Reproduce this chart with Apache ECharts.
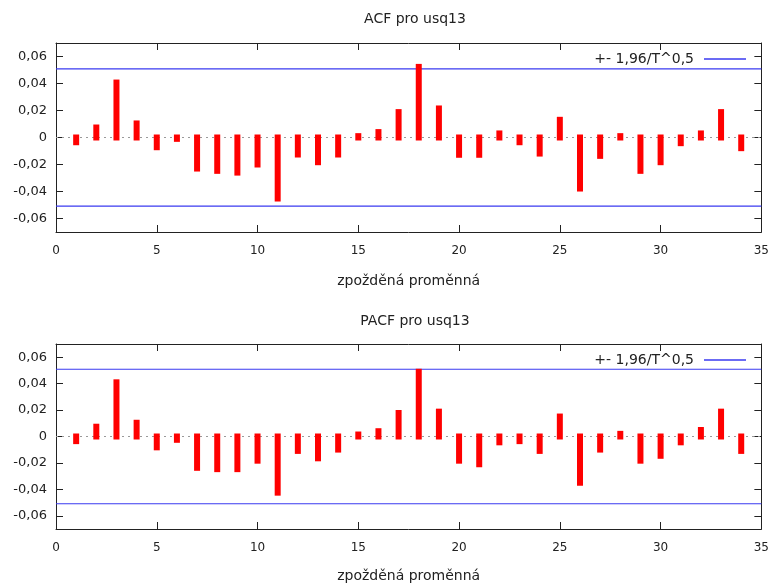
<!DOCTYPE html>
<html><head><meta charset="utf-8">
<script src="https://cdn.jsdelivr.net/npm/echarts@6/dist/echarts.min.js"></script>
<style>html,body{margin:0;padding:0;background:#fff}#c{width:772px;height:584px}</style>
</head><body><div id="c"></div>
<script>
const lags = [1,2,3,4,5,6,7,8,9,10,11,12,13,14,15,16,17,18,19,20,21,22,23,24,25,26,27,28,29,30,31,32,33,34];
const acf = [-0.0035,0.0074,0.0407,0.0104,-0.0072,-0.001,-0.023,-0.0247,-0.026,-0.020,-0.0452,-0.0126,-0.0183,-0.0126,0.001,0.004,
  0.0188,0.0523,0.0215,-0.0128,-0.0128,0.003,-0.0035,-0.0119,0.0131,-0.0378,-0.0136,0.001,-0.0247,-0.0183,-0.0042,0.003,0.0188,-0.0079];
const pacf = [-0.0035,0.0074,0.041,0.0104,-0.0082,-0.0025,-0.0237,-0.0247,-0.0247,-0.0183,-0.0425,-0.0109,-0.0165,-0.0099,0.0015,0.004,
  0.0178,0.049,0.0188,-0.0183,-0.021,-0.0044,-0.0035,-0.0109,0.0151,-0.035,-0.0099,0.002,-0.0183,-0.0146,-0.0044,0.0049,0.0188,-0.0109];
const bound = 0.0509;
const yTicks = [-0.06,-0.04,-0.02,0,0.02,0.04,0.06];
const xRange = [0, 35];
const titles = ['ACF pro usq13', 'PACF pro usq13'];
const xName = 'zpožděná proměnná';
const legendName = '+- 1,96/T^0,5';

const chart = echarts.init(document.getElementById('c'), null, {renderer:'canvas'});
const grids = [{left:56, right:9, top:43, height:189}, {left:56, right:9, top:344, height:189}];
const axisCol = '#222';
const txt = '#222';
const fam = 'DejaVu Sans, Verdana, sans-serif';
const fmtY = v => v === 0 ? '0' : v.toFixed(2).replace('.', ',');

const xAxes = [], yAxes = [], series = [];
[0,1].forEach(g => {
  xAxes.push({gridIndex:g, type:'value', min:xRange[0], max:xRange[1], interval:5, position:'bottom',
    name:xName, nameLocation:'middle', nameGap: g === 0 ? 42 : 40,
    nameTextStyle:{fontFamily:fam, fontSize:14, color:txt},
    axisLine:{show:true, onZero:false, lineStyle:{color:axisCol}},
    axisTick:{show:true, inside:true, length:7, lineStyle:{color:axisCol}},
    axisLabel:{margin:13, fontFamily:fam, fontSize:12, color:txt},
    splitLine:{show:false}});
  xAxes.push({gridIndex:g, type:'value', min:xRange[0], max:xRange[1], interval:5, position:'top',
    axisLine:{show:true, onZero:false, lineStyle:{color:axisCol}},
    axisTick:{show:true, inside:true, length:7, lineStyle:{color:axisCol}},
    axisLabel:{show:false}, splitLine:{show:false}});
  yAxes.push({gridIndex:g, type:'value', min:-0.07, max:0.07, position:'left',
    axisLine:{show:true, onZero:false, lineStyle:{color:axisCol}},
    axisTick:{show:true, inside:true, length:7, customValues:yTicks, lineStyle:{color:axisCol}},
    axisLabel:{show:true, customValues:yTicks, formatter:fmtY, margin:9, fontFamily:fam, fontSize:13, color:txt},
    splitLine:{show:false}});
  yAxes.push({gridIndex:g, type:'value', min:-0.07, max:0.07, position:'right',
    axisLine:{show:true, onZero:false, lineStyle:{color:axisCol}},
    axisTick:{show:true, inside:true, length:7, customValues:yTicks, lineStyle:{color:axisCol}},
    axisLabel:{show:false}, splitLine:{show:false}});
  const vals = g === 0 ? acf : pacf;
  const xi = g*2, yi = g*2;
  series.push({type:'line', xAxisIndex:xi, yAxisIndex:yi, silent:true, symbol:'none',
    data:[[xRange[0],0],[xRange[1],0]], lineStyle:{color:'#999', width:1, type:[2,4]}, z:1});
  series.push({type:'custom', xAxisIndex:xi, yAxisIndex:yi, silent:true,
    data: lags.map((l,i) => [l, vals[i]]),
    renderItem: (params, api) => {
      const p0 = api.coord([api.value(0), 0]);
      const p1 = api.coord([api.value(0), api.value(1)]);
      const top = Math.min(p0[1], p1[1]) - 3, bot = Math.max(p0[1], p1[1]) + 3;
      return {type:'rect', shape:{x:p0[0]-3, y:top, width:6, height:bot-top}, style:{fill:'#ff0000'}};
    }, z:3});
  series.push({type:'line', name:legendName, xAxisIndex:xi, yAxisIndex:yi, silent:true, symbol:'none',
    data:[[xRange[0],bound],[xRange[1],bound]], lineStyle:{color:'#3a3af0', width:1.2}, itemStyle:{color:'#3a3af0'}, z:2});
  series.push({type:'line', name:legendName, xAxisIndex:xi, yAxisIndex:yi, silent:true, symbol:'none',
    data:[[xRange[0],-bound],[xRange[1],-bound]], lineStyle:{color:'#3a3af0', width:1.2}, itemStyle:{color:'#3a3af0'}, z:2});
});

chart.setOption({
  animation:false,
  backgroundColor:'#fff',
  title: titles.map((t,i) => ({text:t, left:410, textAlign:'center', top: i===0 ? 7 : 309,
    textStyle:{fontFamily:fam, fontSize:14, fontWeight:'normal', color:txt}})),
  legend: [0,1].map(i => ({data:[{name:legendName, icon:'rect'}], right:21, top: i===0 ? 47 : 348, align:'right',
    itemWidth:42, itemHeight:1.5, itemGap:10, selectedMode:false,
    textStyle:{fontFamily:fam, fontSize:14, color:txt, padding:[0,5,0,0]}})),
  grid: grids,
  xAxis: xAxes,
  yAxis: yAxes,
  series: series
});
</script></body></html>
